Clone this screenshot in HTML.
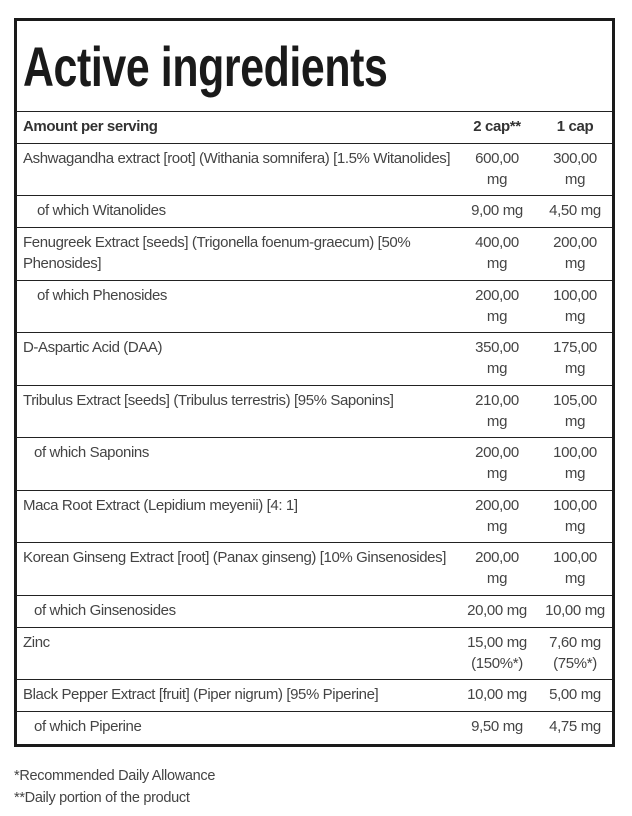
<!DOCTYPE html>
<html><head><meta charset="utf-8"><style>
body{margin:0;width:632px;height:816px;background:#fff;position:relative;font-family:"Liberation Sans",sans-serif;color:#444;overflow:hidden}
.box{position:absolute;left:14px;top:18px;width:595px;height:723px;border:3px solid #1a1a1a}
.t{position:absolute;left:23px;top:34px;font-size:56px;font-weight:bold;color:#1a1a1a;transform:scaleX(0.765);transform-origin:left top;white-space:nowrap;letter-spacing:-0.5px}
.h{position:absolute;left:16px;width:596px;height:0;border-top:1.5px solid #222}
.c{position:absolute;font-size:15px;line-height:21px;letter-spacing:-0.4px;white-space:nowrap}
.v{position:absolute;font-size:15px;line-height:21px;letter-spacing:-0.35px;text-align:center;width:80px}
.b{font-weight:bold;color:#333}
.f{position:absolute;left:14px;font-size:14.5px;letter-spacing:-0.3px;color:#444}
</style></head><body>
<div class="box"></div>
<div class="t">Active ingredients</div>
<div class="h" style="top:111px"></div>
<div class="c b" style="left:23px;top:116px">Amount per serving</div>
<div class="v b" style="left:457px;top:116px">2 cap**</div>
<div class="v b" style="left:535px;top:116px">1 cap</div>
<div class="h" style="top:143px"></div>

<div class="c" style="left:23px;top:148px">Ashwagandha extract [root] (Withania somnifera) [1.5% Witanolides]</div>
<div class="v" style="left:457px;top:148px">600,00<br>mg</div><div class="v" style="left:535px;top:148px">300,00<br>mg</div>
<div class="h" style="top:195px"></div>
<div class="c" style="left:37px;top:200px">of which Witanolides</div>
<div class="v" style="left:457px;top:200px">9,00 mg</div><div class="v" style="left:535px;top:200px">4,50 mg</div>
<div class="h" style="top:227px"></div>
<div class="c" style="left:23px;top:232px">Fenugreek Extract [seeds] (Trigonella foenum-graecum) [50%<br>Phenosides]</div>
<div class="v" style="left:457px;top:232px">400,00<br>mg</div><div class="v" style="left:535px;top:232px">200,00<br>mg</div>
<div class="h" style="top:280px"></div>
<div class="c" style="left:37px;top:285px">of which Phenosides</div>
<div class="v" style="left:457px;top:285px">200,00<br>mg</div><div class="v" style="left:535px;top:285px">100,00<br>mg</div>
<div class="h" style="top:332px"></div>
<div class="c" style="left:23px;top:337px">D-Aspartic Acid (DAA)</div>
<div class="v" style="left:457px;top:337px">350,00<br>mg</div><div class="v" style="left:535px;top:337px">175,00<br>mg</div>
<div class="h" style="top:385px"></div>
<div class="c" style="left:23px;top:390px">Tribulus Extract [seeds] (Tribulus terrestris) [95% Saponins]</div>
<div class="v" style="left:457px;top:390px">210,00<br>mg</div><div class="v" style="left:535px;top:390px">105,00<br>mg</div>
<div class="h" style="top:437px"></div>
<div class="c" style="left:34px;top:442px">of which Saponins</div>
<div class="v" style="left:457px;top:442px">200,00<br>mg</div><div class="v" style="left:535px;top:442px">100,00<br>mg</div>
<div class="h" style="top:490px"></div>
<div class="c" style="left:23px;top:495px">Maca Root Extract (Lepidium meyenii) [4: 1]</div>
<div class="v" style="left:457px;top:495px">200,00<br>mg</div><div class="v" style="left:535px;top:495px">100,00<br>mg</div>
<div class="h" style="top:542px"></div>
<div class="c" style="left:23px;top:547px">Korean Ginseng Extract [root] (Panax ginseng) [10% Ginsenosides]</div>
<div class="v" style="left:457px;top:547px">200,00<br>mg</div><div class="v" style="left:535px;top:547px">100,00<br>mg</div>
<div class="h" style="top:595px"></div>
<div class="c" style="left:34px;top:600px">of which Ginsenosides</div>
<div class="v" style="left:457px;top:600px">20,00 mg</div><div class="v" style="left:535px;top:600px">10,00 mg</div>
<div class="h" style="top:627px"></div>
<div class="c" style="left:23px;top:632px">Zinc</div>
<div class="v" style="left:457px;top:632px">15,00 mg<br>(150%*)</div><div class="v" style="left:535px;top:632px">7,60 mg<br>(75%*)</div>
<div class="h" style="top:679px"></div>
<div class="c" style="left:23px;top:684px">Black Pepper Extract [fruit] (Piper nigrum) [95% Piperine]</div>
<div class="v" style="left:457px;top:684px">10,00 mg</div><div class="v" style="left:535px;top:684px">5,00 mg</div>
<div class="h" style="top:711px"></div>
<div class="c" style="left:34px;top:716px">of which Piperine</div>
<div class="v" style="left:457px;top:716px">9,50 mg</div><div class="v" style="left:535px;top:716px">4,75 mg</div>

<div class="f" style="top:768px">*Recommended Daily Allowance</div>
<div class="f" style="top:790px">**Daily portion of the product</div>
</body></html>
